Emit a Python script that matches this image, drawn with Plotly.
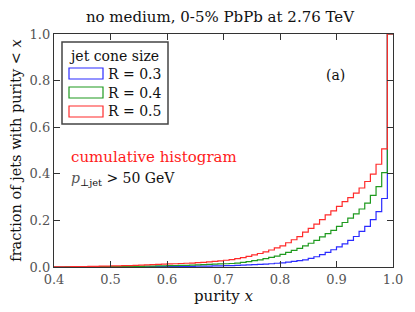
import plotly.graph_objects as go

# bin left edges 0.40 ... 0.99 (width 0.01)
bin_left = [round(0.40 + 0.01 * i, 2) for i in range(60)]

frac_r03 = [0.000, 0.000, 0.000, 0.000, 0.000, 0.000, 0.000, 0.000, 0.001, 0.001,
            0.001, 0.001, 0.001, 0.001, 0.001, 0.001, 0.001, 0.002, 0.002, 0.002,
            0.002, 0.002, 0.003, 0.003, 0.003, 0.004, 0.004, 0.004, 0.005, 0.005,
            0.006, 0.006, 0.007, 0.008, 0.009, 0.010, 0.011, 0.012, 0.014, 0.016,
            0.018, 0.021, 0.024, 0.027, 0.031, 0.037, 0.044, 0.053, 0.063, 0.074,
            0.086, 0.099, 0.114, 0.131, 0.153, 0.174, 0.203, 0.238, 0.294, 1.000]

frac_r04 = [0.000, 0.000, 0.001, 0.001, 0.001, 0.001, 0.001, 0.001, 0.002, 0.002,
            0.002, 0.002, 0.002, 0.003, 0.003, 0.003, 0.004, 0.004, 0.005, 0.005,
            0.006, 0.006, 0.007, 0.007, 0.008, 0.009, 0.010, 0.011, 0.012, 0.013,
            0.014, 0.015, 0.017, 0.020, 0.023, 0.027, 0.031, 0.036, 0.041, 0.047,
            0.054, 0.063, 0.071, 0.080, 0.091, 0.102, 0.114, 0.129, 0.143, 0.157,
            0.174, 0.191, 0.210, 0.228, 0.249, 0.274, 0.307, 0.345, 0.405, 1.000]

frac_r05 = [0.001, 0.001, 0.001, 0.002, 0.002, 0.002, 0.003, 0.003, 0.004, 0.004,
            0.005, 0.005, 0.006, 0.006, 0.007, 0.008, 0.009, 0.010, 0.011, 0.012,
            0.013, 0.014, 0.015, 0.016, 0.017, 0.019, 0.020, 0.022, 0.024, 0.026,
            0.029, 0.032, 0.036, 0.040, 0.046, 0.052, 0.058, 0.065, 0.073, 0.082,
            0.091, 0.104, 0.117, 0.130, 0.150, 0.166, 0.184, 0.203, 0.224, 0.241,
            0.260, 0.281, 0.298, 0.317, 0.339, 0.367, 0.399, 0.441, 0.507, 1.000]

series_names = ["R = 0.3", "R = 0.4", "R = 0.5"]
series_vals = [frac_r03, frac_r04, frac_r05]
series_colors = ["#2b2bff", "#1f9a1f", "#ff2b2b"]

x_ticks = [0.4, 0.5, 0.6, 0.7, 0.8, 0.9, 1.0]
y_ticks = [0.0, 0.2, 0.4, 0.6, 0.8, 1.0]

FONT = "DejaVu Serif, Liberation Serif, serif"

# page body has an 8px margin; shrink the figure so plot area lands at 54..393 x 34..267
OFF = 8
W, H = 415 - OFF, 312 - OFF
L, R, T, B = 54 - OFF, 22, 34 - OFF, 45

fig = go.Figure()
xs = bin_left + [1.0]
for name, vals, col in zip(series_names, series_vals, series_colors):
    fig.add_trace(go.Scatter(x=xs, y=vals + [vals[-1]], mode="lines",
                             line=dict(color=col, width=1.2, shape="hv"),
                             name=name, showlegend=False))

axis_common = dict(showline=True, linecolor="#333333", linewidth=1.3, mirror="ticks",
                   ticks="inside", ticklen=6, tickcolor="#333333", tickwidth=1,
                   showgrid=False, zeroline=False,
                   tickfont=dict(family=FONT, size=13, color="#555555"))

fig.update_xaxes(range=[0.4, 1.0], tickvals=x_ticks, ticktext=[f"{v:.1f}" for v in x_ticks],
                 title=dict(text="purity <i>x</i>", font=dict(family=FONT, size=15, color="#111111"),
                            standoff=0),
                 **axis_common)
fig.update_yaxes(range=[0.0, 1.0], tickvals=y_ticks, ticktext=[f"{v:.1f}" for v in y_ticks],
                 title=dict(text="fraction of jets with purity &lt; <i>x</i>",
                            font=dict(family=FONT, size=14.5, color="#111111"), standoff=6),
                 **axis_common)

fig.update_layout(
    width=W, height=H,
    margin=dict(l=L, r=R, t=T, b=B, autoexpand=False),
    paper_bgcolor="white", plot_bgcolor="white",
    title=dict(text="no medium, 0-5% PbPb at 2.76 TeV", x=(220 - OFF) / W, xanchor="center",
               y=1 - (17 - OFF) / H, yanchor="middle",
               font=dict(family=FONT, size=15, color="#111111")),
    showlegend=False,
)

# positions in reference-pixel terms, converted to paper coords of the plot area
def px2x(p):
    return (p - 54) / 339.0

def py2y(p):
    return (267 - p) / 233.0

fig.add_shape(type="rect", xref="paper", yref="paper",
              x0=px2x(62), x1=px2x(168), y0=py2y(124), y1=py2y(42),
              line=dict(color="#444444", width=1.5), fillcolor="white")
fig.add_annotation(xref="paper", yref="paper", x=px2x(114), y=py2y(56), text="jet cone size",
                   showarrow=False, xanchor="center", yanchor="middle",
                   font=dict(family=FONT, size=14, color="#111111"))
patch_tops = [68, 87, 106]
for name, col, top in zip(series_names, series_colors, patch_tops):
    fig.add_shape(type="rect", xref="paper", yref="paper",
                  x0=px2x(69), x1=px2x(103), y0=py2y(top + 11), y1=py2y(top),
                  line=dict(color=col, width=1.2), fillcolor="white")
    fig.add_annotation(xref="paper", yref="paper", x=px2x(106), y=py2y(top + 5.5), text=name,
                       showarrow=False, xanchor="left", yanchor="middle",
                       font=dict(family=FONT, size=14, color="#111111"))

fig.add_annotation(xref="paper", yref="paper", x=px2x(335), y=py2y(75), text="(a)",
                   showarrow=False, xanchor="center", yanchor="middle",
                   font=dict(family=FONT, size=14, color="#111111"))
fig.add_annotation(xref="paper", yref="paper", x=px2x(69), y=py2y(157), text="cumulative histogram",
                   showarrow=False, xanchor="left", yanchor="middle",
                   font=dict(family=FONT, size=15, color="#ff1a1a"))
fig.add_annotation(xref="paper", yref="paper", x=px2x(69), y=py2y(179),
                   text="<i><span style='color:#555555'>p</span></i><sub>⊥jet</sub> &gt; 50 GeV",
                   showarrow=False, xanchor="left", yanchor="middle",
                   font=dict(family=FONT, size=14, color="#111111"))

fig.write_html("out.html")
